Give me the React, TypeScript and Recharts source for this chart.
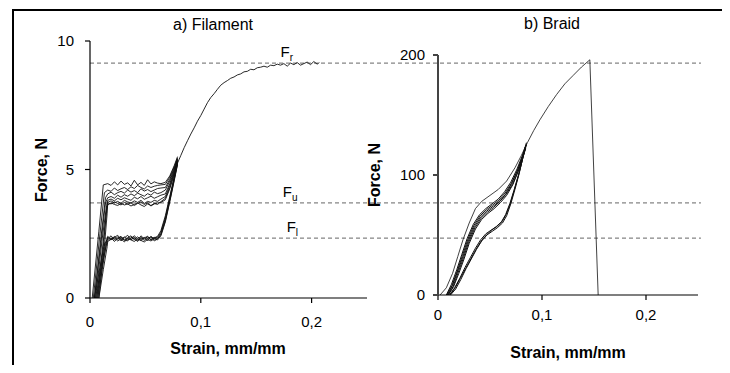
import { LineChart, Line, XAxis, YAxis, ReferenceLine, ReferenceDot } from 'recharts'

// strain grid shared by the filament cycles (plateau + reload part)
const FIL_X = [0.016, 0.019, 0.022, 0.025, 0.028, 0.031, 0.034, 0.037, 0.04, 0.043, 0.046, 0.049, 0.052, 0.055, 0.058, 0.061, 0.064, 0.068, 0.072, 0.076, 0.079]

// upper plateau cycles: initial rise, then force on FIL_X
const FIL_UP_RISE = [
  [[0.002, 0], [0.008, 2.6], [0.012, 4.4]],
  [[0.003, 0], [0.009, 2.5], [0.013, 4.1]],
  [[0.004, 0], [0.01, 2.4], [0.014, 3.9]],
  [[0.004, 0], [0.01, 2.2], [0.014, 3.7]],
  [[0.005, 0], [0.011, 2.3], [0.015, 3.6]],
  [[0.006, 0], [0.012, 2.2], [0.015, 3.5]],
  [[0.007, 0], [0.012, 2.0], [0.015, 3.4]],
  [[0.008, 0], [0.013, 2.0], [0.0155, 3.3]],
]
const FIL_UP_Y = [
  [4.45, 4.38, 4.52, 4.4, 4.55, 4.42, 4.48, 4.36, 4.58, 4.4, 4.5, 4.38, 4.6, 4.44, 4.52, 4.47, 4.45, 4.5, 4.75, 5.15, 5.5],
  [4.2, 4.15, 4.28, 4.18, 4.25, 4.3, 4.22, 4.33, 4.26, 4.38, 4.3, 4.24, 4.36, 4.3, 4.35, 4.38, 4.4, 4.42, 4.7, 5.1, 5.45],
  [4.05, 4.12, 4.02, 4.1, 4.15, 4.08, 4.2, 4.12, 4.18, 4.1, 4.25, 4.16, 4.22, 4.14, 4.2, 4.26, 4.28, 4.3, 4.62, 5.05, 5.4],
  [3.9, 3.95, 3.88, 4.0, 3.92, 4.02, 3.96, 4.05, 3.98, 4.08, 4.02, 3.96, 4.06, 4.0, 4.12, 4.06, 4.1, 4.2, 4.55, 5.0, 5.42],
  [3.8, 3.85, 3.78, 3.88, 3.82, 3.9, 3.85, 3.8, 3.92, 3.86, 3.95, 3.84, 3.9, 3.96, 3.88, 3.94, 4.0, 4.05, 4.45, 4.95, 5.38],
  [3.72, 3.78, 3.7, 3.76, 3.68, 3.8, 3.74, 3.7, 3.78, 3.72, 3.8, 3.68, 3.76, 3.72, 3.8, 3.76, 3.85, 3.95, 4.38, 4.9, 5.35],
  [3.62, 3.7, 3.64, 3.6, 3.68, 3.62, 3.66, 3.58, 3.64, 3.7, 3.62, 3.56, 3.66, 3.6, 3.68, 3.64, 3.75, 3.88, 4.3, 4.85, 5.32],
  [3.7, 3.66, 3.74, 3.68, 3.62, 3.72, 3.65, 3.7, 3.6, 3.68, 3.74, 3.64, 3.7, 3.58, 3.66, 3.7, 3.72, 3.82, 4.25, 4.8, 5.3],
]

// lower plateau cycles
const FIL_LO_RISE = [
  [[0.004, 0], [0.009, 1.2], [0.013, 2.1]],
  [[0.005, 0], [0.01, 1.2], [0.014, 2.1]],
  [[0.006, 0], [0.011, 1.3], [0.015, 2.1]],
  [[0.007, 0], [0.011, 1.1], [0.015, 2.2]],
  [[0.008, 0], [0.012, 1.1], [0.0155, 2.0]],
]
const FIL_LO_Y = [
  [2.3, 2.42, 2.26, 2.38, 2.22, 2.34, 2.44, 2.26, 2.36, 2.24, 2.42, 2.3, 2.38, 2.26, 2.34, 2.4, 2.62, 3.2, 3.95, 4.72, 5.3],
  [2.36, 2.26, 2.4, 2.28, 2.38, 2.24, 2.34, 2.42, 2.26, 2.38, 2.28, 2.36, 2.22, 2.4, 2.3, 2.36, 2.56, 3.12, 3.9, 4.68, 5.28],
  [2.24, 2.34, 2.2, 2.32, 2.4, 2.26, 2.22, 2.36, 2.3, 2.2, 2.36, 2.24, 2.32, 2.38, 2.22, 2.3, 2.5, 3.06, 3.84, 4.64, 5.25],
  [2.4, 2.28, 2.36, 2.44, 2.28, 2.38, 2.26, 2.32, 2.42, 2.3, 2.24, 2.34, 2.4, 2.28, 2.36, 2.32, 2.46, 3.0, 3.78, 4.6, 5.22],
  [2.2, 2.28, 2.34, 2.22, 2.3, 2.18, 2.32, 2.26, 2.2, 2.3, 2.24, 2.18, 2.28, 2.22, 2.3, 2.26, 2.42, 2.96, 3.74, 4.56, 5.2],
]

// final pull to rupture
const FIL_MAIN = [
  [0.079, 5.25], [0.082, 5.55], [0.085, 5.85], [0.088, 6.12], [0.091, 6.38], [0.094, 6.62], [0.097, 6.88],
  [0.1, 7.1], [0.103, 7.35], [0.106, 7.6], [0.109, 7.8], [0.112, 7.95], [0.115, 8.12], [0.118, 8.28],
  [0.121, 8.38], [0.124, 8.46], [0.127, 8.55], [0.13, 8.6], [0.133, 8.68], [0.136, 8.72], [0.139, 8.8],
  [0.142, 8.82], [0.145, 8.9], [0.148, 8.88], [0.151, 8.96], [0.154, 8.98], [0.157, 9.02], [0.16, 8.98],
  [0.163, 9.06], [0.166, 9.04], [0.169, 9.1], [0.172, 9.06], [0.175, 9.12], [0.178, 9.02], [0.181, 9.14],
  [0.184, 9.08], [0.187, 9.16], [0.19, 9.06], [0.193, 9.12], [0.196, 9.18], [0.199, 9.08], [0.202, 9.2],
  [0.205, 9.1], [0.207, 9.16],
]

// braid
const BR_OUTER = [
  [0.002, 0], [0.008, 6], [0.014, 18], [0.019, 32], [0.024, 46], [0.03, 60], [0.036, 72], [0.042, 78],
  [0.05, 83], [0.058, 88], [0.066, 95], [0.074, 106], [0.08, 116], [0.086, 127], [0.092, 137], [0.098, 146],
  [0.106, 157], [0.114, 167], [0.122, 176], [0.13, 183], [0.138, 190], [0.146, 196], [0.154, 0],
]
const BR_UP = [
  [[0.008, 0], [0.013, 9], [0.018, 21], [0.023, 34], [0.028, 47], [0.034, 59], [0.04, 67], [0.046, 72], [0.052, 76], [0.058, 80], [0.064, 86], [0.07, 94], [0.076, 105], [0.081, 116], [0.084, 124]],
  [[0.0085, 0], [0.0135, 8], [0.0185, 20], [0.0235, 33], [0.0285, 46], [0.0345, 58], [0.0405, 66], [0.0465, 71], [0.0525, 75], [0.0585, 79], [0.0645, 85], [0.0705, 93], [0.0765, 104], [0.0815, 116], [0.0842, 123]],
  [[0.009, 0], [0.014, 8], [0.019, 20], [0.024, 32], [0.029, 45], [0.035, 57], [0.041, 65], [0.047, 70], [0.053, 74], [0.059, 78], [0.065, 84], [0.071, 93], [0.077, 105], [0.082, 117], [0.0845, 125]],
  [[0.0095, 0], [0.0145, 7], [0.0195, 19], [0.0245, 31], [0.0295, 44], [0.0355, 56], [0.0415, 64], [0.0475, 69], [0.0535, 73], [0.0595, 78], [0.0655, 84], [0.0715, 92], [0.0775, 104], [0.0825, 118], [0.085, 126]],
  [[0.01, 0], [0.015, 7], [0.02, 18], [0.025, 30], [0.03, 43], [0.036, 55], [0.042, 63], [0.048, 68], [0.054, 72], [0.06, 77], [0.066, 83], [0.072, 92], [0.078, 105], [0.083, 119], [0.085, 127]],
]
const BR_LO = [
  [[0.011, 0], [0.016, 6], [0.021, 14], [0.026, 23], [0.031, 31], [0.036, 39], [0.041, 46], [0.046, 51], [0.051, 54], [0.056, 57], [0.061, 61], [0.065, 67], [0.069, 76], [0.073, 87], [0.077, 99], [0.081, 112], [0.084, 123]],
  [[0.0115, 0], [0.0165, 6], [0.0215, 14], [0.0265, 22], [0.0315, 30], [0.0365, 38], [0.0415, 45], [0.0465, 50], [0.0515, 54], [0.0565, 57], [0.0615, 61], [0.0655, 67], [0.0695, 76], [0.0735, 88], [0.0775, 100], [0.0815, 114], [0.0843, 122]],
  [[0.012, 0], [0.017, 5], [0.022, 13], [0.027, 22], [0.032, 30], [0.037, 38], [0.042, 45], [0.047, 50], [0.052, 53], [0.057, 56], [0.062, 60], [0.066, 66], [0.07, 76], [0.074, 88], [0.078, 101], [0.082, 116], [0.085, 125]],
]

const X_TICKS = [0, 0.1, 0.2]
const FIL_TICKS = [0, 5, 10]
const BR_TICKS = [0, 100, 200]

// force levels (filament axis) drawn across both panels
const LEVELS = [
  { y: 9.14, sub: 'r', x: 0.172 },
  { y: 3.7, sub: 'u', x: 0.174 },
  { y: 2.33, sub: 'l', x: 0.1775 },
]
const LEVEL_END = 0.5514

const FONT = '"Liberation Sans", Arial, sans-serif'
const INK = '#111'

const fmt = (v: number) => String(v).replace('.', ',')
const pts = (pairs: number[][]) => pairs.map(([x, y]) => ({ x, y }))
const cycle = (rise: number[][], ys: number[]) => [...pts(rise), ...FIL_X.map((x, i) => ({ x, y: ys[i] }))]

const filCurves = [
  ...FIL_UP_RISE.map((r, i) => cycle(r, FIL_UP_Y[i])),
  ...FIL_LO_RISE.map((r, i) => cycle(r, FIL_LO_Y[i])),
  pts(FIL_MAIN),
]
const brBunch = [...BR_UP.map(pts), ...BR_LO.map(pts)]

const tickStyle = { fill: '#000', fontSize: 15, fontFamily: FONT }

function FLabel({ cx, cy, sub }: { cx?: number; cy?: number; sub: string }) {
  if (cx == null || cy == null) return null
  return (
    <text x={cx} y={cy - 6} fontFamily={FONT} fontSize={15} fill="#000">
      F
      <tspan fontSize={10} dy={4}>{sub}</tspan>
    </text>
  )
}

export default function App() {
  return (
    <div style={{ position: 'relative', width: 730, height: 373, margin: -8, overflow: 'hidden', background: '#fff' }}>
      <div style={{ position: 'absolute', left: 12, top: 9, width: 730, height: 373, borderTop: '2px solid #000', borderLeft: '2px solid #000' }} />
      <div style={{ position: 'absolute', left: 0, top: 0 }}>
        <LineChart width={730} height={373} margin={{ top: 41, right: 363, bottom: 45, left: 50 }}>
          <XAxis type="number" dataKey="x" domain={[0, 0.25]} ticks={X_TICKS} tickFormatter={fmt} height={30}
            stroke="#000" strokeWidth={1.2} tickSize={5} tickMargin={13} tick={tickStyle} allowDataOverflow />
          <YAxis type="number" dataKey="y" domain={[0, 10]} ticks={FIL_TICKS} width={40}
            stroke="#000" strokeWidth={1.2} tickSize={5} tickMargin={11} tick={tickStyle} />
          {LEVELS.map((l) => (
            <ReferenceLine key={l.sub} segment={[{ x: 0, y: l.y }, { x: LEVEL_END, y: l.y }]} ifOverflow="visible"
              stroke="#666" strokeWidth={1} strokeDasharray="4 3" />
          ))}
          {filCurves.map((d, i) => (
            <Line key={i} data={d} dataKey="y" type="linear" dot={false} stroke={INK} strokeWidth={0.9} isAnimationActive={false} />
          ))}
          {LEVELS.map((l) => (
            <ReferenceDot key={'f' + l.sub} x={l.x} y={l.y} r={0} shape={(p: any) => <FLabel cx={p.cx} cy={p.cy} sub={l.sub} />} />
          ))}
          <text x={213} y={30} textAnchor="middle" fontFamily={FONT} fontSize={16} fill="#000">a) Filament</text>
          <text x={228} y={354} textAnchor="middle" fontFamily={FONT} fontSize={16} fontWeight="bold" fill="#000">Strain, mm/mm</text>
          <text x={47} y={170} textAnchor="middle" fontFamily={FONT} fontSize={16} fontWeight="bold" fill="#000" transform="rotate(-90 47 170)">Force, N</text>
        </LineChart>
      </div>
      <div style={{ position: 'absolute', left: 365, top: 0 }}>
        <LineChart width={365} height={373} margin={{ top: 55, right: 32, bottom: 48, left: 33 }}>
          <XAxis type="number" dataKey="x" domain={[0, 0.25]} ticks={X_TICKS} tickFormatter={fmt} height={30}
            stroke="#000" strokeWidth={1.2} tickSize={5} tickMargin={9} tick={tickStyle} allowDataOverflow />
          <YAxis type="number" dataKey="y" domain={[0, 200]} ticks={BR_TICKS} width={40}
            stroke="#444" strokeWidth={2} tickSize={5} tickMargin={8} tick={tickStyle} />
          <Line data={pts(BR_OUTER)} dataKey="y" type="linear" dot={false} stroke={INK} strokeWidth={0.8} isAnimationActive={false} />
          {brBunch.map((d, i) => (
            <Line key={i} data={d} dataKey="y" type="linear" dot={false} stroke={INK} strokeWidth={1} isAnimationActive={false} />
          ))}
          <text x={187} y={29} textAnchor="middle" fontFamily={FONT} fontSize={16} fill="#000">b) Braid</text>
          <text x={203} y={358} textAnchor="middle" fontFamily={FONT} fontSize={16} fontWeight="bold" fill="#000">Strain, mm/mm</text>
          <text x={15} y={175} textAnchor="middle" fontFamily={FONT} fontSize={16} fontWeight="bold" fill="#000" transform="rotate(-90 15 175)">Force, N</text>
        </LineChart>
      </div>
    </div>
  )
}
